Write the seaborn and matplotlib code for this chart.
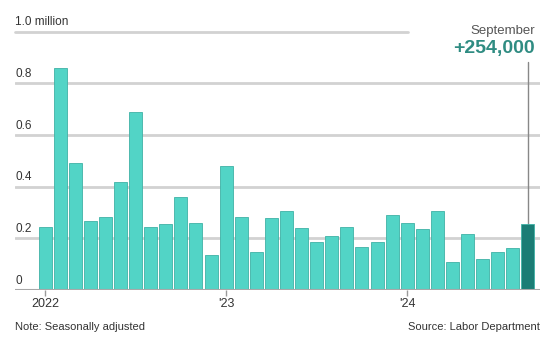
import matplotlib
matplotlib.use("Agg")
import matplotlib.pyplot as plt
import seaborn as sns
import pandas as pd

months = pd.date_range("2022-01-01", "2024-09-01", freq="MS").strftime("%Y-%m").tolist()
jobs_millions = [0.244, 0.857, 0.490, 0.268, 0.281, 0.419, 0.687, 0.242, 0.255, 0.359,
                 0.260, 0.134, 0.480, 0.284, 0.146, 0.277, 0.307, 0.239, 0.184, 0.209,
                 0.245, 0.165, 0.184, 0.290, 0.258, 0.235, 0.307, 0.109, 0.217, 0.120,
                 0.146, 0.161, 0.254]
y_ticks = [0, 0.2, 0.4, 0.6, 0.8, 1.0]
y_tick_labels = ["0", "0.2", "0.4", "0.6", "0.8", "1.0 million"]
x_tick_months = ["2022-01", "2023-01", "2024-01"]
x_tick_labels = ["2022", "'23", "'24"]
highlight_label = "September"
highlight_value = "+254,000"

sns.set_theme(style="white")
plt.rcParams["font.family"] = ["Liberation Sans Narrow", "Liberation Sans", "DejaVu Sans"]

W, H = 548, 341
fig = plt.figure(figsize=(W / 100, H / 100), dpi=100)
# axes spans x 15..540 px, y 31.5..290 px
ax = fig.add_axes([15 / W, (H - 290) / H, 525 / W, 258.5 / H])

base = "#52d4c6"
dark = "#1b7d75"
colors = [base] * (len(months) - 1) + [dark]
df = pd.DataFrame({"month": months, "value": jobs_millions})
sns.barplot(data=df, x="month", y="value", hue="month", palette=colors,
            legend=False, width=0.86, ax=ax, edgecolor="#3fb2a6", linewidth=0.6,
            zorder=3, saturation=1)

n = len(months)
ax.set_xlim(-1.99, n - 1 + 0.8)
ax.set_ylim(0, 1.0)

grid_c = "#d2d2d2"
for t in y_ticks[1:-1]:
    ax.axhline(t, color=grid_c, lw=2, zorder=1, xmin=0, xmax=1)
# top gridline stops before the annotation
ax.axhline(1.0, color=grid_c, lw=2, zorder=1, xmin=0, xmax=(408 - 15) / 525, clip_on=False)
ax.axhline(0, color="#a8a8a8", lw=1.5, zorder=4)

for sp in ax.spines.values():
    sp.set_visible(False)
ax.set_yticks([])
ax.set_xlabel("")
ax.set_ylabel("")

# y labels sitting above gridlines
for t, lab in zip(y_ticks, y_tick_labels):
    ax.text(0, t + 0.012, lab, transform=ax.get_yaxis_transform(), ha="left",
            va="bottom", fontsize=8.5, color="#333333", zorder=5)

# x ticks
pos = [months.index(m) for m in x_tick_months]
ax.set_xticks(pos)
ax.set_xticklabels(x_tick_labels, fontsize=9, color="#333333")
ax.tick_params(axis="x", length=4, width=1, color="#9a9a9a", pad=2, direction="out")
ax.xaxis.set_ticks_position("bottom")

# highlight annotation
last = n - 1
ax.plot([last, last], [jobs_millions[-1], (290 - 62) / 258.5], color="#888888",
        lw=1, zorder=2, clip_on=False)
fig.text(535 / W, 1 - 31 / H, highlight_label, ha="right", va="center",
         fontsize=9.5, color="#555555")
fig.text(535 / W, 1 - 49 / H, highlight_value, ha="right", va="center",
         fontsize=14, fontweight="bold", color="#2f8c82")

fig.text(15 / W, 1 - 327 / H, "Note: Seasonally adjusted", ha="left", va="center",
         fontsize=8, color="#333333")
fig.text(540 / W, 1 - 327 / H, "Source: Labor Department", ha="right", va="center",
         fontsize=8, color="#333333")

fig.savefig("out.png", dpi=100)
